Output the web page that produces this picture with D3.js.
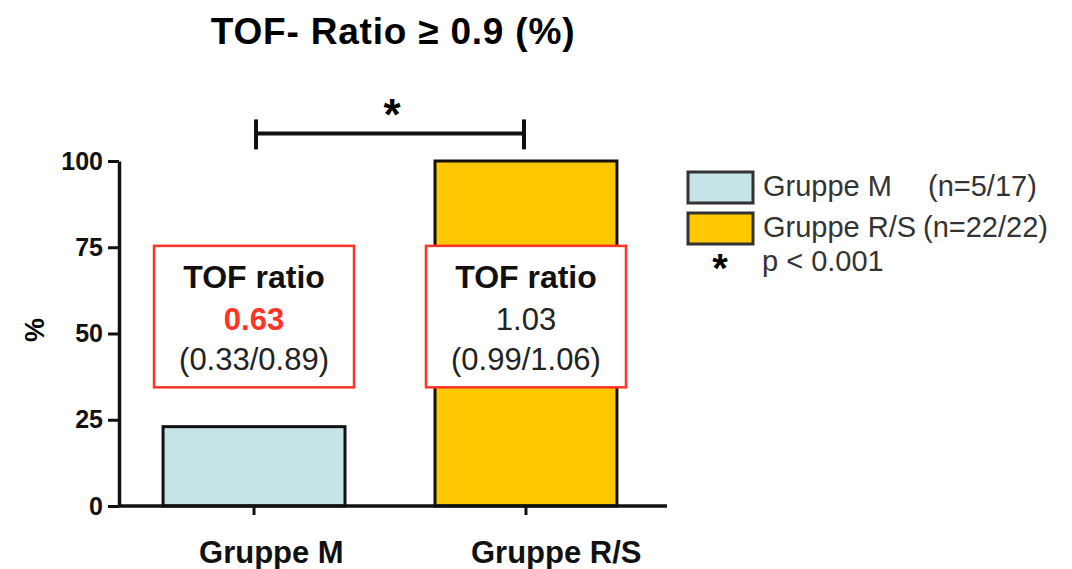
<!DOCTYPE html>
<html>
<head>
<meta charset="utf-8">
<script src="https://cdn.jsdelivr.net/npm/d3@7"></script>
<style>
  body { margin: 0; background: #fff; }
  svg { display: block; font-family: "Liberation Sans", Arial, Helvetica, sans-serif; }
</style>
</head>
<body>
<svg id="chart"></svg>
<script>
// Data
const categories = ["Gruppe M", "Gruppe R/S"]
const values = [23, 100]
const yTicks = [0, 25, 50, 75, 100]
const legendLabels = ["Gruppe M", "Gruppe R/S"]
const legendCounts = ["(n=5/17)", "(n=22/22)"]
const ratioMedians = ["0.63", "1.03"]
const ratioRanges = ["(0.33/0.89)", "(0.99/1.06)"]
const pValueLabel = "p < 0.001"

const width = 1072
const height = 569
const fills = ["#c6e4e7", "#ffc800"]

const svg = d3.select("#chart")
  .attr("width", width)
  .attr("height", height)

const x = d3.scaleBand()
  .domain(categories)
  .range([119, 661])
  .paddingInner(0.331)
  .paddingOuter(0.162)

const y = d3.scaleLinear()
  .domain([0, 100])
  .range([506, 161])

// Title
svg.append("text")
  .attr("x", 393)
  .attr("y", 44)
  .attr("text-anchor", "middle")
  .attr("font-size", 37)
  .attr("font-weight", "bold")
  .attr("letter-spacing", 0.8)
  .text("TOF- Ratio \u2265 0.9 (%)")

// Bars
svg.append("g")
  .selectAll("rect")
  .data(values)
  .join("rect")
  .attr("x", (d, i) => x(categories[i]))
  .attr("y", d => y(d))
  .attr("width", x.bandwidth())
  .attr("height", d => y(0) - y(d))
  .attr("fill", (d, i) => fills[i])
  .attr("stroke", "#111")
  .attr("stroke-width", 3)

// Y axis
svg.append("g")
  .attr("transform", `translate(${x.range()[0]},0)`)
  .call(d3.axisLeft(y).tickValues(yTicks).tickSize(11).tickPadding(5).tickSizeOuter(0))
  .call(g => g.select(".domain").attr("stroke-width", 3.5).attr("stroke", "#111"))
  .call(g => g.selectAll(".tick line").attr("stroke-width", 3).attr("stroke", "#111"))
  .call(g => g.selectAll(".tick text")
    .attr("font-family", "'Liberation Sans', Arial, sans-serif")
    .attr("font-size", 25)
    .attr("font-weight", "bold")
    .attr("fill", "#111"))

svg.append("text")
  .attr("transform", "translate(44,330) rotate(-90)")
  .attr("text-anchor", "middle")
  .attr("font-size", 27)
  .attr("font-weight", "bold")
  .text("%")

// X axis (labels start a bit left of each tick, as in the reference)
svg.append("g")
  .attr("transform", `translate(0,${y(0)})`)
  .call(d3.axisBottom(x).tickSize(9).tickPadding(26).tickSizeOuter(0))
  .call(g => g.select(".domain").remove())
  .call(g => g.selectAll(".tick line").attr("stroke-width", 3).attr("stroke", "#111"))
  .call(g => g.selectAll(".tick text")
    .attr("font-family", "'Liberation Sans', Arial, sans-serif")
    .attr("font-size", 31)
    .attr("font-weight", "bold")
    .attr("fill", "#111")
    .attr("text-anchor", "start")
    .attr("x", -55))

svg.append("line")
  .attr("x1", x.range()[0])
  .attr("x2", 667)
  .attr("y1", y(0))
  .attr("y2", y(0))
  .attr("stroke", "#111")
  .attr("stroke-width", 3.5)

// Significance bracket
const bracketY = y(108)
const bx1 = x(categories[0]) + x.bandwidth() / 2 + 2
const bx2 = x(categories[1]) + x.bandwidth() / 2 - 2
const bracket = svg.append("g")
  .attr("stroke", "#111")
  .attr("stroke-width", 4)
bracket.append("line").attr("x1", bx1).attr("x2", bx2).attr("y1", bracketY).attr("y2", bracketY)
bracket.append("line").attr("x1", bx1).attr("x2", bx1).attr("y1", bracketY - 14).attr("y2", bracketY + 16)
bracket.append("line").attr("x1", bx2).attr("x2", bx2).attr("y1", bracketY - 14).attr("y2", bracketY + 16)

svg.append("text")
  .attr("x", (bx1 + bx2) / 2 + 2)
  .attr("y", bracketY - 3)
  .attr("text-anchor", "middle")
  .attr("font-size", 44)
  .attr("font-weight", "bold")
  .text("*")

// Median boxes
const boxW = 200
const boxTop = y(75.4)
const boxBottom = y(34.4)
const boxes = svg.append("g")
  .selectAll("g")
  .data(categories)
  .join("g")
  .attr("transform", d => `translate(${x(d) + x.bandwidth() / 2},0)`)

boxes.append("rect")
  .attr("x", -boxW / 2)
  .attr("y", boxTop)
  .attr("width", boxW)
  .attr("height", boxBottom - boxTop)
  .attr("fill", "#fff")
  .attr("stroke", "#ff3326")
  .attr("stroke-width", 2.5)

boxes.append("text")
  .attr("y", boxTop + 42)
  .attr("text-anchor", "middle")
  .attr("font-size", 32)
  .attr("font-weight", "bold")
  .attr("fill", "#111")
  .text("TOF ratio")

boxes.append("text")
  .attr("y", boxTop + 84)
  .attr("text-anchor", "middle")
  .attr("font-size", 31)
  .attr("font-weight", (d, i) => i === 0 ? "bold" : "normal")
  .attr("fill", (d, i) => i === 0 ? "#ff3326" : "#222")
  .text((d, i) => ratioMedians[i])

boxes.append("text")
  .attr("y", boxTop + 124)
  .attr("text-anchor", "middle")
  .attr("font-size", 31)
  .attr("fill", "#222")
  .text((d, i) => ratioRanges[i])

// Legend
const legend = svg.append("g")
  .attr("transform", "translate(688,172)")

const rows = legend.selectAll("g")
  .data(legendLabels)
  .join("g")
  .attr("transform", (d, i) => `translate(0,${i * 41})`)

rows.append("rect")
  .attr("width", 65)
  .attr("height", 31)
  .attr("fill", (d, i) => fills[i])
  .attr("stroke", "#333")
  .attr("stroke-width", 3)

rows.append("text")
  .attr("x", 75)
  .attr("y", 24)
  .attr("font-size", 29)
  .attr("fill", "#333")
  .text(d => d)

rows.append("text")
  .attr("x", (d, i) => i === 0 ? 240 : 235)
  .attr("y", 24)
  .attr("font-size", 29)
  .attr("fill", "#333")
  .text((d, i) => legendCounts[i])

legend.append("text")
  .attr("x", 32)
  .attr("y", 110)
  .attr("text-anchor", "middle")
  .attr("font-size", 40)
  .attr("font-weight", "bold")
  .text("*")

legend.append("text")
  .attr("x", 74)
  .attr("y", 99)
  .attr("font-size", 29)
  .attr("fill", "#333")
  .text(pValueLabel)
</script>
</body>
</html>
